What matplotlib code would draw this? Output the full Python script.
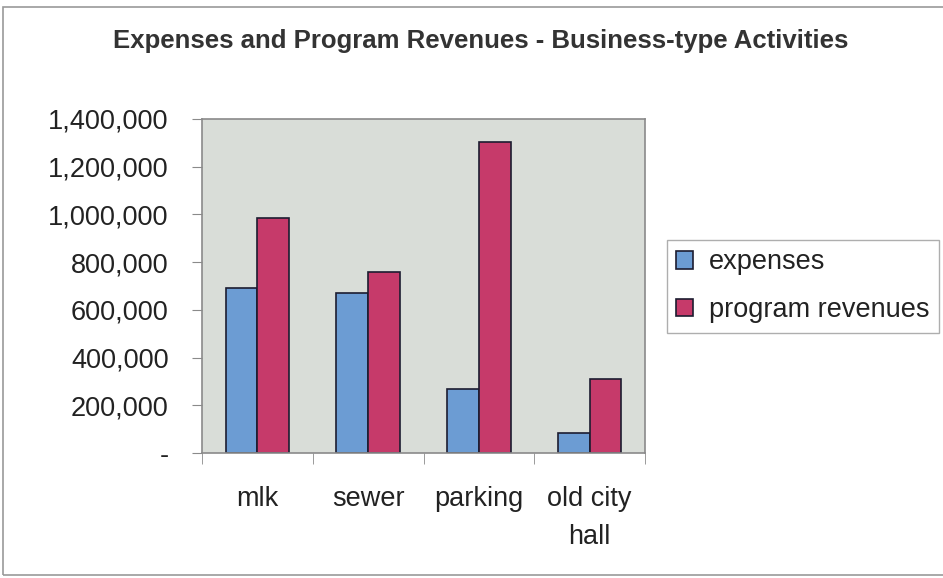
import matplotlib
matplotlib.use("Agg")
import matplotlib.pyplot as plt
import numpy as np
from matplotlib.patches import Rectangle
from matplotlib.ticker import FuncFormatter

plt.rcParams["font.family"] = ["Liberation Sans", "DejaVu Sans"]

categories = ["mlk", "sewer", "parking", "old city\nhall"]
expenses = [690000, 671000, 268000, 84000]
program_revenues = [983000, 757000, 1302000, 310000]
series_names = ["expenses", "program revenues"]
yticks = [0, 200000, 400000, 600000, 800000, 1000000, 1200000, 1400000]

BLUE, RED = "#6c9cd3", "#c63a6a"
EDGE = "#1c1c30"
PLOT_BG = "#d9ddd8"
AXIS = "#8a8a8a"
INK = "#222222"


def fmt(v, _):
    return "-" if v == 0 else f"{v:,.0f}"


fig = plt.figure(figsize=(9.43, 5.78), dpi=100, facecolor="white")
# outer chart border (runs off the right edge)
fig.patches.append(Rectangle((3 / 943, 3 / 578), 1.2, 1 - 10 / 578,
                             transform=fig.transFigure, fill=False,
                             edgecolor="#9a9a9a", lw=1.2))

ax = fig.add_axes([202 / 943, 1 - 453 / 578, 443 / 943, 334 / 578])
ax.set_facecolor(PLOT_BG)

x = np.arange(len(categories))
w = 0.286
ax.bar(x - w / 2, expenses, w, color=BLUE, edgecolor=EDGE, lw=1.2, label=series_names[0])
ax.bar(x + w / 2, program_revenues, w, color=RED, edgecolor=EDGE, lw=1.2, label=series_names[1])

ax.set_xlim(-0.5, len(categories) - 0.5)
ax.set_ylim(0, 1400000)
ax.set_yticks(yticks)
ax.yaxis.set_major_formatter(FuncFormatter(fmt))
ax.set_xticks(x)
ax.set_xticklabels(categories, linespacing=1.6)
ax.set_xticks(np.arange(len(categories) + 1) - 0.5, minor=True)

ax.tick_params(axis="x", which="major", length=0, pad=24, labelsize=19.5, labelcolor=INK)
ax.tick_params(axis="x", which="minor", length=8, color=AXIS, direction="out")
ax.tick_params(axis="y", length=7, color=AXIS, direction="out", pad=17,
               labelsize=19.5, labelcolor=INK)

for s in ax.spines.values():
    s.set_color(AXIS)
    s.set_linewidth(1.2)

fig.text(481 / 943, 1 - 48 / 578,
         "Expenses and Program Revenues - Business-type Activities",
         fontsize=18.5, fontweight="bold", color="#333333",
         ha="center", va="baseline")

lg = fig.legend(loc="upper left", bbox_to_anchor=(667 / 943, 1 - 240 / 578),
                fontsize=19.5, frameon=True, fancybox=False, handlelength=0.6,
                handleheight=0.6, handletextpad=0.6, labelspacing=0.8,
                borderpad=0.35, borderaxespad=0)
lg.get_frame().set_edgecolor("#9a9a9a")
lg.get_frame().set_linewidth(1.0)
for t in lg.get_texts():
    t.set_color(INK)

fig.savefig("out.png", dpi=100, facecolor="white")
